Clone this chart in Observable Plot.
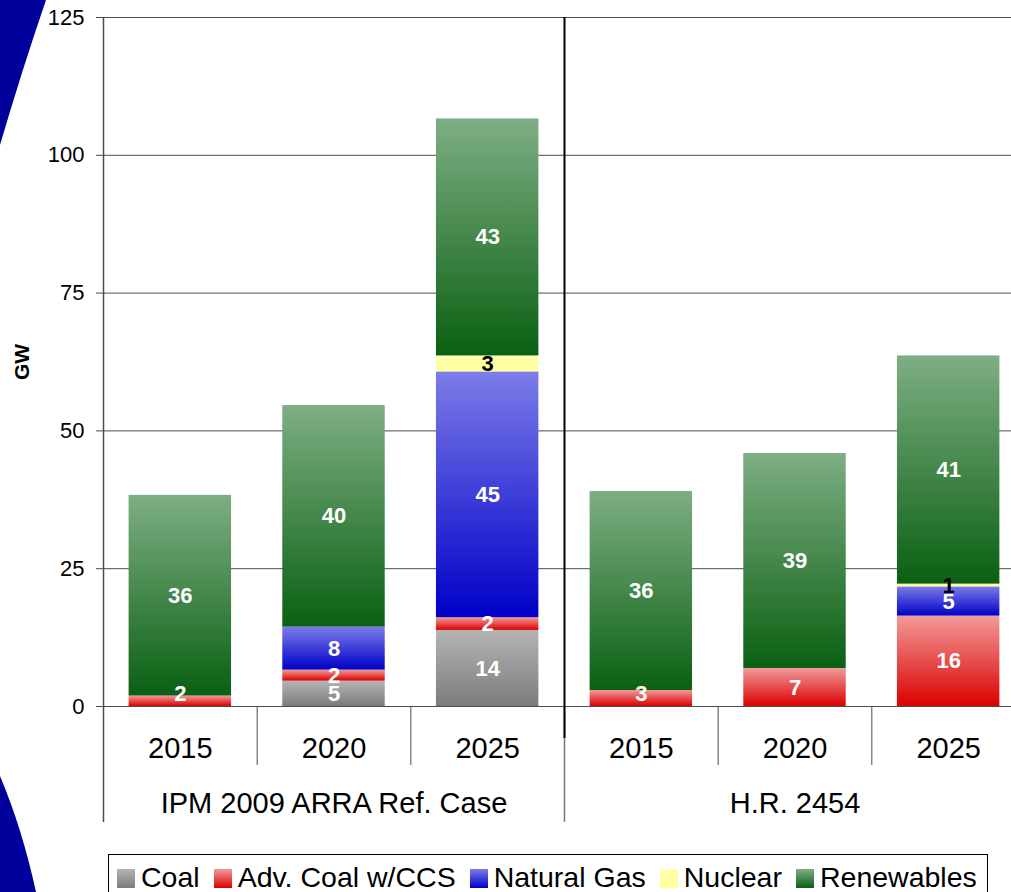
<!DOCTYPE html>
<html>
<head>
<meta charset="utf-8">
<script src="https://cdn.jsdelivr.net/npm/d3@7"></script>
<script src="https://cdn.jsdelivr.net/npm/@observablehq/plot@0.6"></script>
<style>
html,body{margin:0;padding:0;background:#fff;overflow:hidden;width:1011px;height:892px;}
body{font-family:"Liberation Sans",Arial,sans-serif;position:relative;}
#chart svg{max-width:none !important;display:block;}
#legend{position:absolute;left:108px;top:854px;width:880px;height:46px;border:1px solid #000;box-sizing:border-box;display:flex;align-items:center;padding-left:8px;font-size:28.5px;white-space:nowrap;background:#fff;color:#000;}
.item{display:flex;align-items:center;margin-right:14px;}
.sw{width:18px;height:19px;margin-right:6px;margin-top:2px;}
#swoosh{position:absolute;left:0;top:0;pointer-events:none;}
</style>
</head>
<body>
<div id="chart"></div>
<div id="legend"></div>
<svg id="swoosh" width="60" height="892"><path d="M0,0 L46,0 Q22,70 0,145 Z" fill="#00009a"/><path d="M0,776 Q22,828 36,892 L0,892 Z" fill="#00009a"/></svg>
<script>
// ---- data ----
const groups = ["IPM 2009 ARRA Ref. Case", "H.R. 2454"];
const years = ["2015", "2020", "2025"];
const sources = ["Coal", "Adv. Coal w/CCS", "Natural Gas", "Nuclear", "Renewables"];
const coal       = [0,    4.6,  13.8, 0,    0,    0];
const advCoal    = [1.9,  2.0,  2.3,  2.9,  6.9,  16.4];
const naturalGas = [0,    7.8,  44.6, 0,    0,    5.3];
const nuclear    = [0,    0,    2.9,  0,    0,    0.5];
const renewables = [36.4, 40.2, 43.0, 36.1, 39.0, 41.4];
const yTicks = [0, 25, 50, 75, 100, 125];

// ---- styles ----
const topColors    = ["#b4b4b4", "#f29a9a", "#7c7ce9", "#ffffb0", "#7eae84"];
const bottomColors = ["#7c7c7c", "#dc0000", "#0000c8", "#ffff99", "#0a6012"];
const labelColors  = ["white", "white", "white", "black", "white"];

const series = [coal, advCoal, naturalGas, nuclear, renewables];
const categories = groups.flatMap((g, gi) => years.map((y, yi) => ({group: g, year: y, i: gi * years.length + yi})));
const n = categories.length;
const rows = [];
categories.forEach(c => {
  let base = 0;
  series.forEach((vals, k) => {
    const v = vals[c.i];
    if (v > 0) rows.push({i: c.i, k, source: sources[k], v, y1: base, y2: base + v});
    base += v;
  });
});
const groupBounds = groups.map((g, gi) => gi * years.length);
const minorBounds = categories.filter(c => c.i % years.length !== 0).map(c => c.i);

const defsMark = () => {
  const ns = "http://www.w3.org/2000/svg";
  const defs = document.createElementNS(ns, "defs");
  sources.forEach((s, k) => {
    const g = document.createElementNS(ns, "linearGradient");
    g.setAttribute("id", "grad" + k);
    g.setAttribute("x1", "0"); g.setAttribute("y1", "0");
    g.setAttribute("x2", "0"); g.setAttribute("y2", "1");
    [[0, topColors[k]], [1, bottomColors[k]]].forEach(([o, c]) => {
      const st = document.createElementNS(ns, "stop");
      st.setAttribute("offset", o);
      st.setAttribute("stop-color", c);
      g.appendChild(st);
    });
    defs.appendChild(g);
  });
  return defs;
};

const plot = Plot.plot({
  width: 1011,
  height: 845,
  marginTop: 17,
  marginBottom: 139,
  marginLeft: 103,
  marginRight: 0,
  style: {fontFamily: "'Liberation Sans', Arial, sans-serif", background: "transparent", color: "#000"},
  x: {domain: [0, n], range: [103, 1025], axis: null},
  y: {domain: [0, 125], range: [706, 17]},
  marks: [
    defsMark,
    Plot.ruleY(yTicks, {x1: () => 0, x2: () => n, stroke: "#4d4d4d", strokeWidth: 1}),
    Plot.rect(rows, {
      x1: d => d.i + 1/6, x2: d => d.i + 5/6, y1: "y1", y2: "y2",
      fill: d => `url(#grad${d.k})`
    }),
    Plot.text(rows, {
      x: d => d.i + 0.5,
      y: d => Math.max((d.y1 + d.y2) / 2, 2.2),
      text: d => String(Math.round(d.v)),
      fill: d => labelColors[d.k],
      fontWeight: "bold", fontSize: 22
    }),
    // y axis line extending through category labels
    Plot.ruleX(groupBounds.slice(0, 1), {y1: () => 125, y2: () => 0, insetBottom: -116, stroke: "#4d4d4d", strokeWidth: 1.5}),
    // group separator (gray, below axis)
    Plot.ruleX(groupBounds.slice(1), {y1: () => 0, y2: () => 0, insetBottom: -116, stroke: "#777", strokeWidth: 1.5}),
    // black divider through plot
    Plot.ruleX(groupBounds.slice(1), {y1: () => 125, y2: () => 0, insetBottom: -32, stroke: "#000", strokeWidth: 2}),
    // minor category separators
    Plot.ruleX(minorBounds, {y1: () => 0, y2: () => 0, insetBottom: -59, stroke: "#4d4d4d", strokeWidth: 1}),
    Plot.axisY({ticks: yTicks, tickSize: 7, tickPadding: 12, fontSize: 22, stroke: "#4d4d4d", label: null}),
    Plot.text(categories, {x: d => d.i + 0.5, y: () => 0, text: "year", dy: 42, fontSize: 29, fill: "black"}),
    Plot.text(groups, {x: (d, gi) => gi * years.length + years.length / 2, y: () => 0, text: d => d, dy: 97, fontSize: 29, fill: "black"}),
    Plot.text(["GW"], {frameAnchor: "left", textAnchor: "middle", dx: -81, rotate: -90, text: d => d, fontWeight: "bold", fontSize: 21, fill: "black"})
  ]
});
document.getElementById("chart").appendChild(plot);

const legend = document.getElementById("legend");
sources.forEach((s, k) => {
  const item = document.createElement("div");
  item.className = "item";
  const sw = document.createElement("div");
  sw.className = "sw";
  sw.style.background = `linear-gradient(to bottom, ${topColors[k]}, ${bottomColors[k]})`;
  const t = document.createElement("span");
  t.textContent = s;
  item.appendChild(sw);
  item.appendChild(t);
  legend.appendChild(item);
});
</script>
</body>
</html>
